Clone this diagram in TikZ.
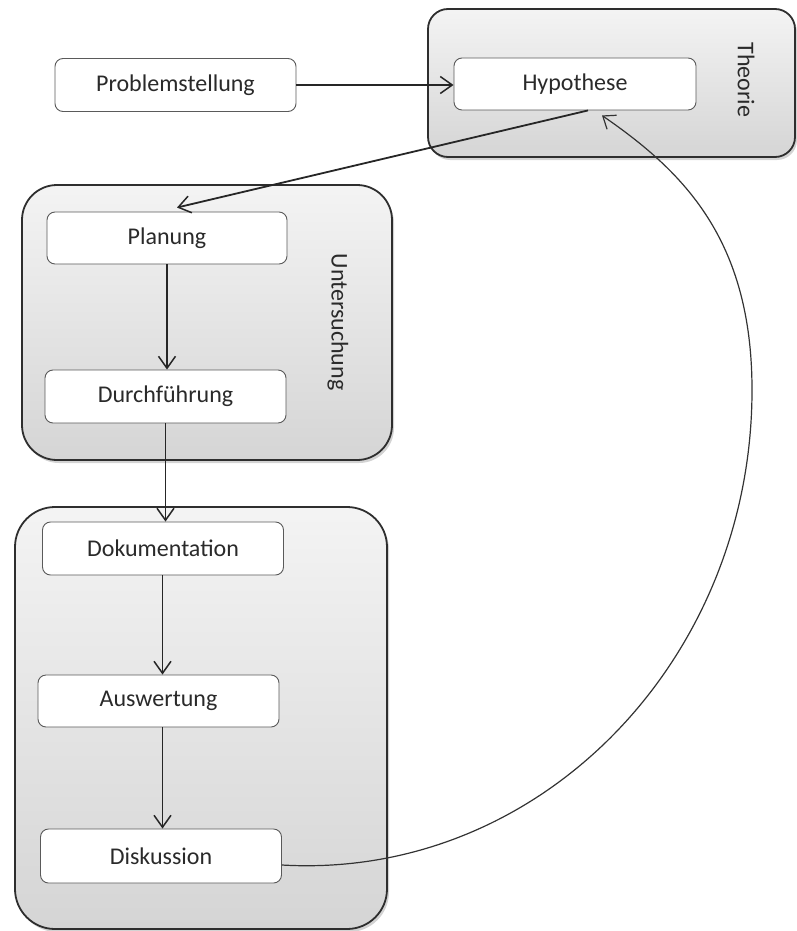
\documentclass[tikz,border=0pt]{standalone}
\usepackage{fontspec}
\setmainfont{Carlito}
\usetikzlibrary{arrows.meta,shadows,calc}
\definecolor{txt}{HTML}{2A2A2A}
\definecolor{boxline}{HTML}{5A5A5A}
\definecolor{grpline}{HTML}{2E2E2E}
\begin{document}
\begin{tikzpicture}[x=1pt,y=1pt,
  grp/.style={draw=grpline, line width=1.8pt, top color=gray!9, bottom color=gray!33,
    drop shadow={shadow xshift=2pt, shadow yshift=-3pt, opacity=0.35, fill=gray}},
  stepbox/.style={draw=boxline, line width=0.9pt, fill=white, rounded corners=8pt,
    minimum width=241pt, minimum height=53pt, inner sep=0pt,
    font=\fontsize{24}{28}\selectfont, text=txt},
  grplabel/.style={font=\fontsize{24}{28}\selectfont, text=txt, rotate=-90, inner sep=0pt},
  arr/.style={draw=black!85, line width=1.8pt, -{Straight Barb[length=12pt,width=17pt,line width=1.5pt]}},
  arrthin/.style={draw=black!80, line width=1.2pt, -{Straight Barb[length=11pt,width=17pt,line width=1.2pt]}}
]
\useasboundingbox (0,0) rectangle (796,-931);
% containers
\path[grp, rounded corners=20pt] (428,-9) rectangle (795,-157);
\path[grp, rounded corners=35pt] (22,-185) rectangle (392,-460);
\path[grp, rounded corners=40pt] (15,-507) rectangle (387,-929);
% labels
\node[grplabel] (theo) at (746,-80) {Theorie};
\node[grplabel] (unt) at (338,-322) {Untersuchung};
% boxes
\node[stepbox] (prob) at (175.5,-85) {Problemstellung};
\node[stepbox, minimum height=52pt, minimum width=242pt] (hyp) at (575,-84) {Hypothese};
\node[stepbox, minimum height=52pt, minimum width=240pt] (pla) at (167,-238) {Planung};
\node[stepbox] (dur) at (165.5,-396.5) {Durchführung};
\node[stepbox] (dok) at (163,-548.5) {Dokumentation};
\node[stepbox, minimum height=52pt] (aus) at (158.5,-701) {Auswertung};
\node[stepbox, minimum height=54pt] (dis) at (161,-856) {Diskussion};
% connectors
\draw[arr] (prob.east) -- (hyp.west |- prob.east);
\draw[arr] ([xshift=13pt]hyp.south) -- ([xshift=10pt,yshift=4pt]pla.north);
\draw[arr] (pla.south) -- (pla.south |- dur.north);
\draw[arr] (dur.south) -- (dur.south |- dok.north);
\draw[arr] ([xshift=-0.5pt]dok.south) -- ([xshift=-0.5pt]dok.south |- aus.north);
\draw[arr] ([xshift=-0.5pt]dok.south |- aus.south) -- ([xshift=-0.5pt]dok.south |- dis.north);
\coordinate (c1) at (752,-390);
\draw[arrthin] ([yshift=-9pt]dis.east) .. controls (540,-880) and (752,-660) .. (c1)
  .. controls (752,-240) and (684,-172) .. ([xshift=27pt,yshift=-5pt]hyp.south);
\end{tikzpicture}
\end{document}
